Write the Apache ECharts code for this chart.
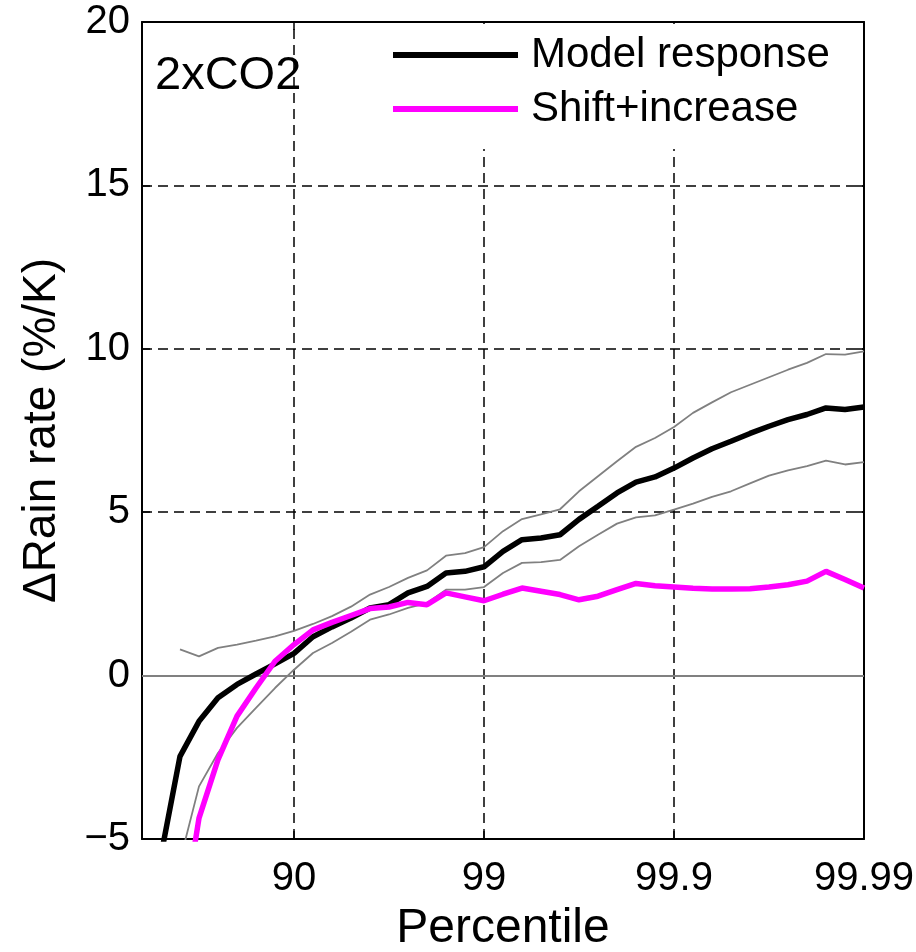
<!DOCTYPE html>
<html>
<head>
<meta charset="utf-8">
<script src="https://cdn.jsdelivr.net/npm/echarts@6/dist/echarts.min.js"></script>
<style>
  html, body { margin: 0; padding: 0; background: #fff; }
  #chart { width: 916px; height: 952px; }
</style>
</head>
<body>
<div id="chart"></div>
<script>
// x position = -log10(1 - percentile/100), so 90 -> 1, 99 -> 2, 99.9 -> 3, 99.99 -> 4
const logPos = [0.3, 0.4, 0.5, 0.6, 0.7, 0.8, 0.9, 1.0, 1.1, 1.2, 1.3, 1.4, 1.5, 1.6, 1.7, 1.8, 1.9, 2.0, 2.1,
  2.2, 2.3, 2.4, 2.5, 2.6, 2.7, 2.8, 2.9, 3.0, 3.1, 3.2, 3.3, 3.4, 3.5, 3.6, 3.7, 3.8, 3.9, 4.0];
const tickPos = [1, 2, 3, 4];
const tickLabels = ['90', '99', '99.9', '99.99'];
const gridX = [1, 2, 3];
const gridY = [5, 10, 15];

// Model response (black)
const modelResp = [-5.5, -2.47, -1.40, -0.68, -0.27, 0.05, 0.36, 0.68, 1.19, 1.49, 1.76, 2.07, 2.17, 2.53, 2.73,
  3.14, 3.19, 3.33, 3.80, 4.16, 4.21, 4.31, 4.78, 5.18, 5.59, 5.92, 6.08, 6.35, 6.66, 6.94, 7.17, 7.41, 7.63,
  7.83, 7.99, 8.19, 8.14, 8.22];
// upper / lower bounds (thin grey)
const upperBound = [null, 0.80, 0.59, 0.85, 0.95, 1.07, 1.20, 1.37, 1.58, 1.82, 2.11, 2.48, 2.71, 2.99, 3.22,
  3.67, 3.75, 3.93, 4.42, 4.79, 4.93, 5.09, 5.64, 6.10, 6.56, 7.00, 7.27, 7.61, 8.04, 8.36, 8.67, 8.90, 9.13,
  9.36, 9.57, 9.84, 9.82, 9.92];
const lowerBound = [null, -5.67, -3.39, -2.37, -1.60, -0.99, -0.38, 0.18, 0.69, 1.00, 1.34, 1.71, 1.87, 2.07,
  2.22, 2.63, 2.63, 2.71, 3.14, 3.45, 3.47, 3.54, 3.96, 4.31, 4.65, 4.84, 4.90, 5.08, 5.26, 5.47, 5.64, 5.88,
  6.12, 6.28, 6.41, 6.58, 6.46, 6.53];
// Shift+increase (magenta)
const shiftIncrease = [null, -8.0, -4.36, -2.57, -1.24, -0.38, 0.44, 0.95, 1.40, 1.63, 1.84, 2.05, 2.10, 2.24,
  2.17, 2.53, 2.41, 2.29, 2.49, 2.68, 2.58, 2.48, 2.32, 2.43, 2.63, 2.82, 2.75, 2.71, 2.67, 2.65, 2.65, 2.66,
  2.71, 2.78, 2.89, 3.19, 2.94, 2.68];

function pairs(vals) {
  return logPos.map(function (x, i) { return [x, vals[i]]; });
}

const font = "'Liberation Sans', Arial, Helvetica, sans-serif";
const dash = { color: '#000', width: 1.5, type: [10, 6] };
const frameLine = { show: true, onZero: false, lineStyle: { color: '#000', width: 2 } };
const inTick = { show: true, inside: true, length: 8, lineStyle: { color: '#000', width: 1.5 } };

var chart = echarts.init(document.getElementById('chart'));
option = {
  animation: false,
  textStyle: { fontFamily: font },
  grid: { left: 142, right: 52, top: 22, bottom: 113, outerBoundsMode: 'none', containLabel: false },
  legend: {
    data: ['Model response', 'Shift+increase'],
    orient: 'vertical',
    left: 330,
    top: 24,
    padding: [6, 25, 15, 63],
    itemGap: 4,
    itemWidth: 125,
    itemHeight: 6,
    icon: 'rect',
    backgroundColor: '#fff',
    selectedMode: false,
    textStyle: { fontSize: 42, lineHeight: 50, color: '#000', fontFamily: font, padding: [0, 0, 0, 8] }
  },
  graphic: [{
    type: 'text',
    left: 155,
    top: 53,
    style: { text: '2xCO2', fontSize: 47, fontFamily: font, fill: '#000' }
  }],
  xAxis: [{
    type: 'value',
    min: 0.2,
    max: 4,
    position: 'bottom',
    name: 'Percentile',
    nameLocation: 'middle',
    nameGap: 66,
    nameTextStyle: { fontSize: 48, color: '#000', fontFamily: font },
    axisLine: frameLine,
    axisTick: Object.assign({ customValues: tickPos }, inTick),
    axisLabel: {
      customValues: tickPos,
      formatter: function (v) { return tickLabels[tickPos.indexOf(v)]; },
      fontSize: 40, color: '#000', margin: 20, fontFamily: font
    },
    splitLine: { show: false }
  }, {
    type: 'value',
    min: 0.2,
    max: 4,
    position: 'top',
    axisLine: frameLine,
    axisTick: Object.assign({ customValues: tickPos }, inTick),
    axisLabel: { show: false },
    splitLine: { show: false }
  }],
  yAxis: [{
    type: 'value',
    min: -5,
    max: 20,
    interval: 5,
    position: 'left',
    name: 'ΔRain rate (%/K)',
    nameLocation: 'middle',
    nameGap: 77,
    nameTextStyle: { fontSize: 46, color: '#000', fontFamily: font },
    axisLine: frameLine,
    axisTick: inTick,
    axisLabel: {
      fontSize: 40, color: '#000', margin: 12, fontFamily: font,
      formatter: function (v) { return v < 0 ? '\u2212' + Math.abs(v) : String(v); }
    },
    splitLine: { show: false }
  }, {
    type: 'value',
    min: -5,
    max: 20,
    interval: 5,
    position: 'right',
    axisLine: frameLine,
    axisTick: inTick,
    axisLabel: { show: false },
    splitLine: { show: false }
  }],
  series: [{
    name: 'upper',
    type: 'line',
    data: pairs(upperBound),
    symbol: 'none',
    silent: true,
    color: '#808080',
    lineStyle: { color: '#808080', width: 1.8 },
    markLine: {
      silent: true,
      z: 1,
      symbol: 'none',
      animation: false,
      label: { show: false },
      data: gridX.map(function (v) { return { xAxis: v, lineStyle: dash }; })
        .concat(gridY.map(function (v) { return { yAxis: v, lineStyle: dash }; }))
        .concat([{ yAxis: 0, lineStyle: { color: '#808080', width: 2, type: 'solid' } }])
    }
  }, {
    name: 'lower',
    type: 'line',
    data: pairs(lowerBound),
    symbol: 'none',
    silent: true,
    color: '#808080',
    lineStyle: { color: '#808080', width: 1.8 }
  }, {
    name: 'Model response',
    type: 'line',
    data: pairs(modelResp),
    symbol: 'none',
    silent: true,
    color: '#000000',
    lineStyle: { color: '#000000', width: 5.5 }
  }, {
    name: 'Shift+increase',
    type: 'line',
    data: pairs(shiftIncrease),
    symbol: 'none',
    silent: true,
    color: '#ff00ff',
    lineStyle: { color: '#ff00ff', width: 5.5 }
  }]
};
chart.setOption(option);
</script>
</body>
</html>
